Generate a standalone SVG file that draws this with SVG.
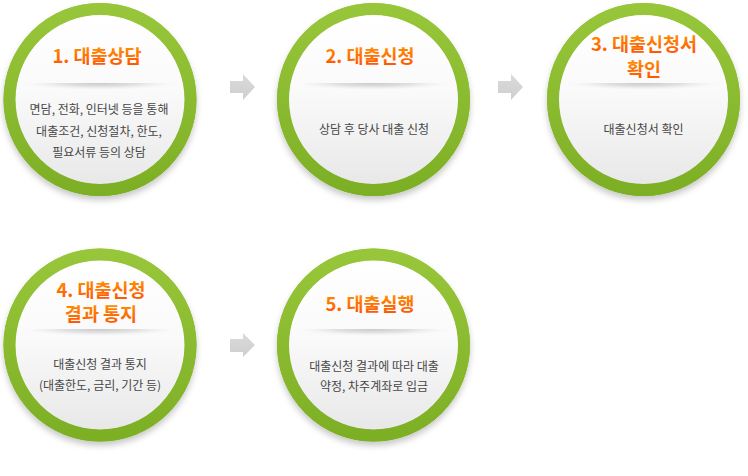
<svg xmlns="http://www.w3.org/2000/svg" width="748" height="476" viewBox="0 0 748 476">
<defs>
<linearGradient id="ring" x1="0" y1="0" x2="0" y2="1">
<stop offset="0" stop-color="#98c63a"/>
<stop offset="1" stop-color="#7daf25"/>
</linearGradient>
<linearGradient id="face" x1="0" y1="0" x2="0" y2="1">
<stop offset="0" stop-color="#ffffff"/>
<stop offset="0.45" stop-color="#fafafa"/>
<stop offset="1" stop-color="#e8e8e8"/>
</linearGradient>
<linearGradient id="title" x1="0" y1="0" x2="0" y2="1">
<stop offset="0" stop-color="#ff9c00"/>
<stop offset="1" stop-color="#ff4e00"/>
</linearGradient>
<radialGradient id="sep" cx="0.5" cy="0" r="0.5">
<stop offset="0" stop-color="#c8c8c8" stop-opacity="1"/>
<stop offset="0.5" stop-color="#d6d6d6" stop-opacity="0.7"/>
<stop offset="1" stop-color="#eeeeee" stop-opacity="0"/>
</radialGradient>
<linearGradient id="arr" x1="0" y1="0" x2="0" y2="1">
<stop offset="0" stop-color="#dadada"/>
<stop offset="1" stop-color="#cfcfcf"/>
</linearGradient>
<filter id="shadow" x="-20%" y="-20%" width="140%" height="150%">
<feDropShadow dx="0" dy="4" stdDeviation="3" flood-color="#000" flood-opacity="0.22"/>
</filter>
</defs>
<style>
.face{fill:url(#face)}
.ring{fill:none;stroke:url(#ring);stroke-width:12}
.sep{fill:url(#sep)}
.t{font-family:"Noto Sans CJK KR","Noto Sans",sans-serif;font-size:18.5px;font-weight:bold;fill:url(#title);text-anchor:middle}
.b{font-family:"Noto Sans CJK KR","Noto Sans",sans-serif;font-size:12px;fill:#474747;text-anchor:middle}
.arrow{fill:url(#arr)}
</style>
<rect width="748" height="476" fill="#ffffff"/>

<g id="connectors">
<path class="arrow" d="M230,81 H243 V74 L255,87 L243,100 V93 H230 Z"/>
<path class="arrow" d="M498,81 H511 V74 L523,87 L511,100 V93 H498 Z"/>
<path class="arrow" d="M230,339 H243 V333 L255,345 L243,357 V352 H230 Z"/>
</g>

<g id="node1">
<g filter="url(#shadow)"><circle cx="100" cy="99.5" r="96.5" fill="url(#ring)"/></g>
<circle class="face" cx="100" cy="99.5" r="85"/>
<circle class="ring" cx="100" cy="99.5" r="90.5"/>
<rect class="sep" x="22" y="83" width="156" height="14"/>
<text class="t" x="97" y="63">1. 대출상담</text>
<text class="b" x="99" y="114">면담, 전화, 인터넷 등을 통해</text>
<text class="b" x="99" y="136">대출조건, 신청절차, 한도,</text>
<text class="b" x="99" y="157">필요서류 등의 상담</text>
</g>

<g id="node2">
<g filter="url(#shadow)"><circle cx="373.5" cy="99.5" r="96.5" fill="url(#ring)"/></g>
<circle class="face" cx="373.5" cy="99.5" r="85"/>
<circle class="ring" cx="373.5" cy="99.5" r="90.5"/>
<rect class="sep" x="295.5" y="83" width="156" height="14"/>
<text class="t" x="370" y="63">2. 대출신청</text>
<text class="b" x="374" y="134">상담 후 당사 대출 신청</text>
</g>

<g id="node3">
<g filter="url(#shadow)"><circle cx="643.5" cy="99.5" r="96.5" fill="url(#ring)"/></g>
<circle class="face" cx="643.5" cy="99.5" r="85"/>
<circle class="ring" cx="643.5" cy="99.5" r="90.5"/>
<rect class="sep" x="565.5" y="83" width="156" height="14"/>
<text class="t" x="644" y="51">3. 대출신청서</text>
<text class="t" x="644" y="76">확인</text>
<text class="b" x="643.5" y="134">대출신청서 확인</text>
</g>

<g id="node4">
<g filter="url(#shadow)"><circle cx="100" cy="345" r="96.5" fill="url(#ring)"/></g>
<circle class="face" cx="100" cy="345" r="85"/>
<circle class="ring" cx="100" cy="345" r="90.5"/>
<rect class="sep" x="22" y="329" width="156" height="14"/>
<text class="t" x="101" y="297">4. 대출신청</text>
<text class="t" x="101" y="321">결과 통지</text>
<text class="b" x="100" y="369">대출신청 결과 통지</text>
<text class="b" x="100" y="390">(대출한도, 금리, 기간 등)</text>
</g>

<g id="node5">
<g filter="url(#shadow)"><circle cx="373.5" cy="345" r="96.5" fill="url(#ring)"/></g>
<circle class="face" cx="373.5" cy="345" r="85"/>
<circle class="ring" cx="373.5" cy="345" r="90.5"/>
<rect class="sep" x="295.5" y="329" width="156" height="14"/>
<text class="t" x="370" y="311">5. 대출실행</text>
<text class="b" x="374" y="371">대출신청 결과에 따라 대출</text>
<text class="b" x="374" y="391">약정, 차주계좌로 입금</text>
</g>
</svg>
